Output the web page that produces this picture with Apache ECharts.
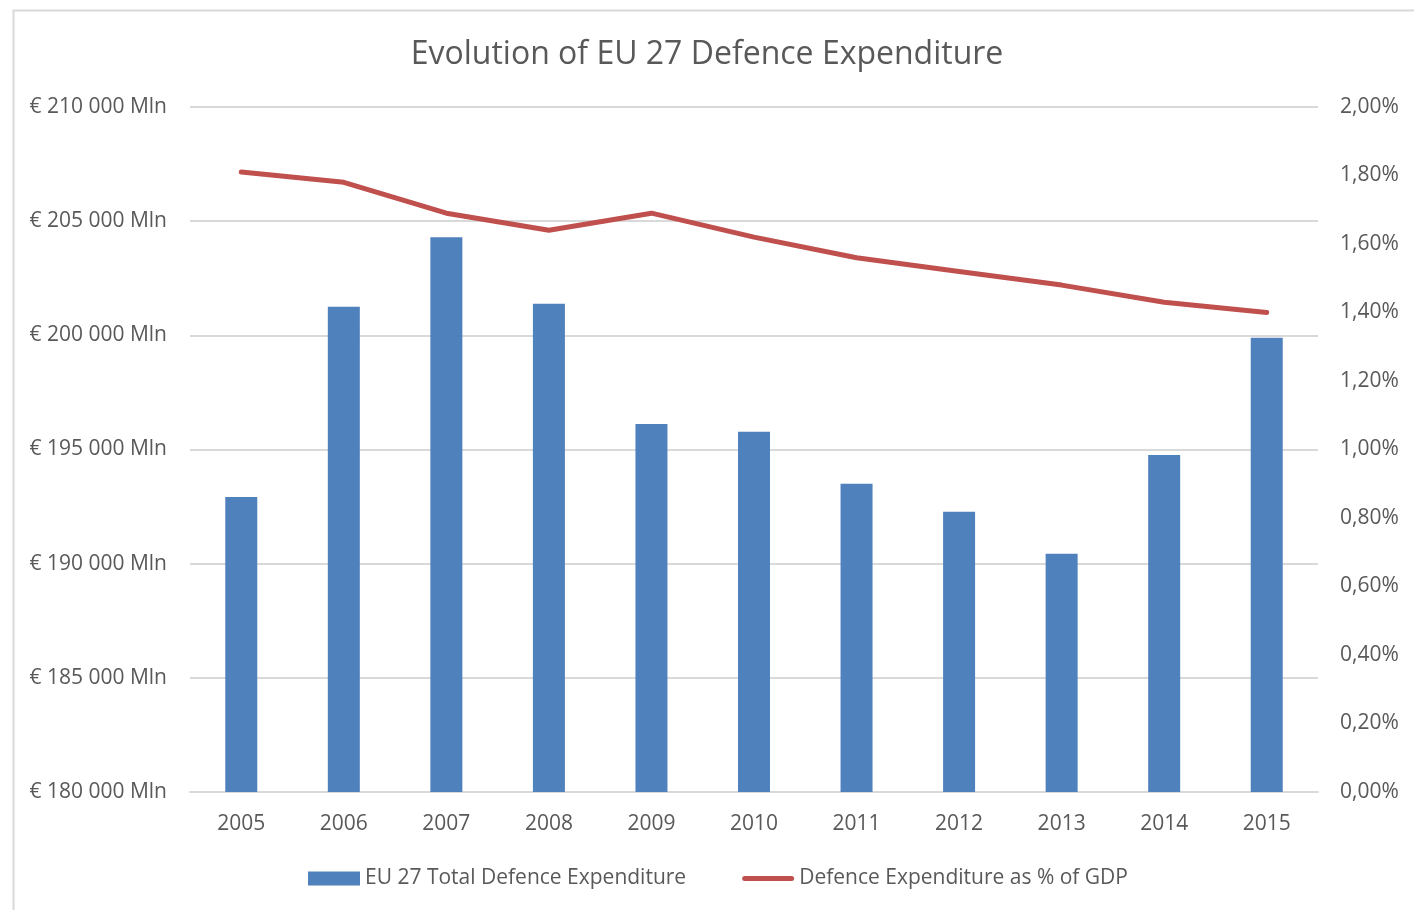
<!DOCTYPE html>
<html>
<head>
<meta charset="utf-8">
<script src="https://cdn.jsdelivr.net/npm/echarts@6/dist/echarts.min.js"></script>
<style>
html,body{margin:0;padding:0;background:#fff;}
#chart{width:1414px;height:910px;}
</style>
</head>
<body>
<div id="chart"></div>
<script>
const years = ['2005','2006','2007','2008','2009','2010','2011','2012','2013','2014','2015'];
const expenditure = [192920, 201250, 204300, 201380, 196120, 195780, 193500, 192270, 190430, 194760, 199890];
const gdpShare = [1.81, 1.78, 1.69, 1.64, 1.69, 1.62, 1.56, 1.52, 1.48, 1.43, 1.40];

const FONT = '"Open Sans", "Liberation Sans", sans-serif';
const TXT = '#595959';

function fmtMln(v) {
  const s = String(v).replace(/\B(?=(\d{3})+(?!\d))/g, ' ');
  return '€ ' + s + ' Mln';
}
function fmtPct(v) {
  return v.toFixed(2).replace('.', ',') + '%';
}

const chart = echarts.init(document.getElementById('chart'));
chart.setOption({
  backgroundColor: '#fff',
  animation: false,
  graphic: [{
    type: 'rect',
    left: 11, top: 8,
    shape: {width: 1430, height: 930},
    style: {fill: 'none', stroke: '#d9d9d9', lineWidth: 2}
  }],
  title: {
    text: 'Evolution of EU 27 Defence Expenditure',
    left: 'center',
    top: 34,
    textStyle: {fontFamily: FONT, fontSize: 32, fontWeight: 'normal', color: TXT}
  },
  legend: {
    bottom: 16,
    left: 303,
    itemGap: 56,
    itemWidth: 52,
    itemHeight: 14,
    itemTextGap: 5,
    textStyle: {fontFamily: FONT, fontSize: 21, color: TXT},
    data: [
      {name: 'EU 27 Total Defence Expenditure', icon: 'rect'},
      {name: 'Defence Expenditure as % of GDP',
       icon: 'path://M2.5,0 L49.5,0 A2.5,2.5 0 0 1 49.5,5 L2.5,5 A2.5,2.5 0 0 1 2.5,0 Z',
       itemStyle: {color: '#c0504d'}}
    ]
  },
  grid: {left: 190, right: 96, top: 107, bottom: 118, containLabel: false},
  xAxis: {
    type: 'category',
    data: years,
    axisLine: {lineStyle: {color: '#d9d9d9', width: 2}},
    axisTick: {show: false},
    axisLabel: {fontFamily: FONT, fontSize: 21, color: TXT, margin: 22}
  },
  yAxis: [{
    type: 'value',
    min: 180000, max: 210000, interval: 5000,
    axisLine: {show: false},
    axisTick: {show: false},
    splitLine: {lineStyle: {color: '#d9d9d9', width: 2}},
    axisLabel: {fontFamily: FONT, fontSize: 21, color: TXT, margin: 23, formatter: fmtMln}
  }, {
    type: 'value',
    min: 0, max: 2, interval: 0.2,
    axisLine: {show: false},
    axisTick: {show: false},
    splitLine: {show: false},
    axisLabel: {fontFamily: FONT, fontSize: 21, color: TXT, margin: 22, formatter: fmtPct}
  }],
  series: [{
    name: 'EU 27 Total Defence Expenditure',
    type: 'bar',
    data: expenditure,
    barWidth: 32,
    itemStyle: {color: '#4f81bd'}
  }, {
    name: 'Defence Expenditure as % of GDP',
    type: 'line',
    yAxisIndex: 1,
    data: gdpShare,
    symbol: 'none',
    lineStyle: {color: '#c0504d', width: 5, cap: 'round', join: 'round'},
    itemStyle: {color: '#c0504d'}
  }]
});
</script>
</body>
</html>
